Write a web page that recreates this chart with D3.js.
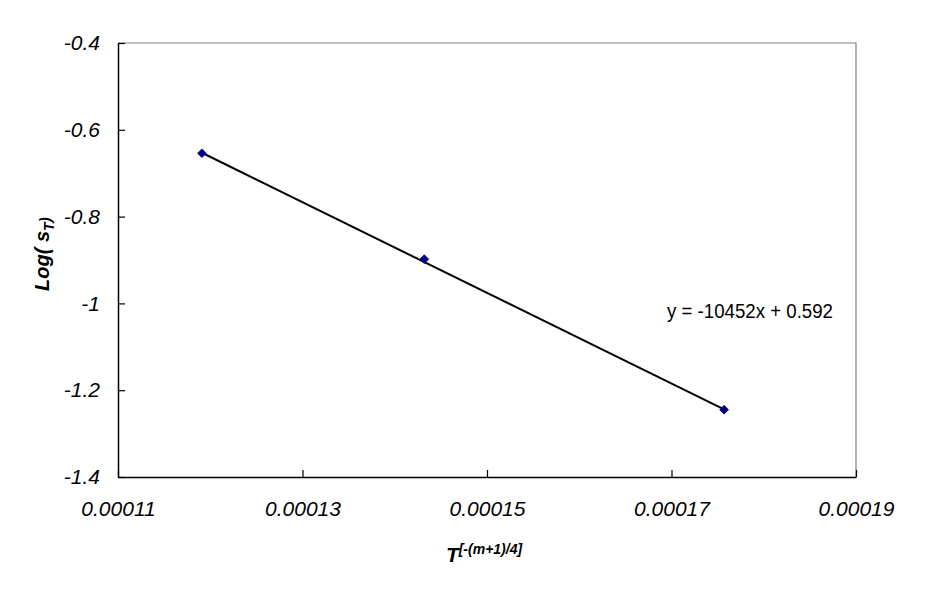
<!DOCTYPE html>
<html>
<head>
<meta charset="utf-8">
<script src="https://cdn.jsdelivr.net/npm/d3@7"></script>
<style>
  html, body { margin: 0; padding: 0; background: #fff; }
  svg { display: block; }
  text { font-family: "Liberation Sans", Arial, sans-serif; }
</style>
</head>
<body>
<svg id="chart" width="944" height="590"></svg>
<script>
// ---- data ----
const xValues = [0.0001191, 0.0001432, 0.0001757];
const yValues = [-0.654, -0.898, -1.245];
const xTicks = [0.00011, 0.00013, 0.00015, 0.00017, 0.00019];
const xTickLabels = ["0.00011", "0.00013", "0.00015", "0.00017", "0.00019"];
const yTicks = [-0.4, -0.6, -0.8, -1.0, -1.2, -1.4];
const yTickLabels = ["-0.4", "-0.6", "-0.8", "-1", "-1.2", "-1.4"];
const trendSlope = -10452;
const trendIntercept = 0.592;
const trendLabel = "y = -10452x + 0.592";

// ---- layout ----
const L = 118, R = 856, T = 43, B = 477;
const svg = d3.select("#chart");

const x = d3.scaleLinear().domain([0.00011, 0.00019]).range([L, R]);
const y = d3.scaleLinear().domain([-1.4, -0.4]).range([B, T]);

// frame: top and right in grey
svg.append("path")
  .attr("d", `M${L},${T}H${R}V${B}`)
  .attr("fill", "none").attr("stroke", "#808080").attr("stroke-width", 1.2);

// y axis
const yAxis = svg.append("g").attr("transform", `translate(${L},0)`)
  .call(d3.axisLeft(y).tickValues(yTicks)
    .tickFormat((d, i) => yTickLabels[i])
    .tickSizeInner(-7).tickSizeOuter(0).tickPadding(18));
yAxis.select(".domain").attr("stroke", "#000").attr("stroke-width", 1.5);
yAxis.selectAll(".tick line").attr("stroke", "#000").attr("stroke-width", 1.2);
yAxis.selectAll(".tick text")
  .attr("font-family", "Liberation Sans, Arial, sans-serif")
  .attr("font-size", 21).attr("font-style", "italic").attr("fill", "#000");

// x axis
const xAxis = svg.append("g").attr("transform", `translate(0,${B})`)
  .call(d3.axisBottom(x).tickValues(xTicks)
    .tickFormat((d, i) => xTickLabels[i])
    .tickSizeInner(-7).tickSizeOuter(0).tickPadding(24));
xAxis.select(".domain").attr("stroke", "#000").attr("stroke-width", 1.5);
xAxis.selectAll(".tick line").attr("stroke", "#000").attr("stroke-width", 1.2);
xAxis.selectAll(".tick text")
  .attr("font-family", "Liberation Sans, Arial, sans-serif")
  .attr("font-size", 21).attr("font-style", "italic").attr("fill", "#000");

// trendline
const xr = d3.extent(xValues);
svg.append("line")
  .attr("x1", x(xr[0])).attr("y1", y(trendSlope * xr[0] + trendIntercept))
  .attr("x2", x(xr[1])).attr("y2", y(trendSlope * xr[1] + trendIntercept))
  .attr("stroke", "#000").attr("stroke-width", 2);

// markers
const sym = d3.symbol().type(d3.symbolSquare).size(38);
svg.selectAll("path.pt").data(xValues).join("path")
  .attr("class", "pt")
  .attr("d", sym)
  .attr("transform", (d, i) => `translate(${x(d)},${y(yValues[i])}) rotate(45)`)
  .attr("fill", "#000080").attr("stroke", "#000080").attr("stroke-width", 0.8);

// equation
svg.append("text")
  .attr("x", 667).attr("y", 318)
  .attr("font-size", 20).attr("fill", "#000")
  .attr("textLength", 166).attr("lengthAdjust", "spacingAndGlyphs")
  .text(trendLabel);

// y axis title
const yt = svg.append("text")
  .attr("transform", "translate(49,254) rotate(-90)")
  .attr("text-anchor", "middle")
  .attr("font-size", 20).attr("font-weight", "bold").attr("font-style", "italic")
  .attr("fill", "#000");
yt.append("tspan").text("Log( s");
yt.append("tspan").attr("font-size", 14).attr("dy", 5).text("T");
yt.append("tspan").attr("font-size", 16).attr("dy", -3).text(")");

// x axis title
const xt = svg.append("text")
  .attr("x", 484).attr("y", 562)
  .attr("text-anchor", "middle")
  .attr("font-weight", "bold").attr("font-style", "italic")
  .attr("fill", "#000");
xt.append("tspan").attr("font-size", 21).text("T");
xt.append("tspan").attr("font-size", 14).attr("dy", -8).text("[-(m+1)/4]");
</script>
</body>
</html>
